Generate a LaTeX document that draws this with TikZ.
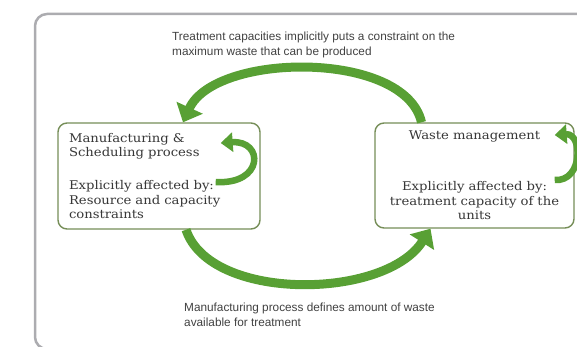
\documentclass[tikz,border=0pt]{standalone}
\usepackage{fontspec}
\setmainfont[FakeStretch=1.1]{DejaVu Serif}
\newfontfamily\notefont{Liberation Sans}
\usetikzlibrary{arrows.meta}

\definecolor{framegray}{RGB}{172,172,176}
\definecolor{boxline}{RGB}{118,142,88}
\definecolor{flowgreen}{RGB}{88,160,52}
\definecolor{boxtext}{RGB}{55,55,55}
\definecolor{notetext}{RGB}{65,65,65}

\tikzset{
  procbox/.style={draw=boxline, line width=1.4pt, rounded corners=9pt, fill=white,
    inner sep=0pt, text=boxtext, font=\fontsize{12}{14.5}\selectfont},
  note/.style={font=\notefont\fontsize{11.8}{14.5}\selectfont, text=notetext,
    align=left, inner sep=0pt, anchor=north west},
  bigflow/.style={draw=flowgreen, line width=9pt, -{Triangle[width=28pt,length=16pt]}},
  loopflow/.style={draw=flowgreen, line width=6.5pt, -{Triangle[width=19pt,length=12pt]}},
}

\begin{document}
\begin{tikzpicture}[x=1pt, y=-1pt]

  \useasboundingbox (0,0) rectangle (577,347);
  \clip (0,0) rectangle (577,347);

  % ***************** FRAME *****************
  \draw[framegray, line width=2.5pt, rounded corners=12pt] (35,14) rectangle (650,349);

  % ***************** BOXES *****************
  \node[procbox, minimum width=202pt, minimum height=106pt, text width=180pt, align=left]
    (mfg) at (159,176)
    {Manufacturing \&\\ Scheduling process\\[18.5pt]
     Explicitly affected by:\\ Resource and capacity\\ constraints};

  \node[procbox, minimum width=199pt, minimum height=105pt, text width=195pt, align=center]
    (waste) at (474.5,175.5)
    {Waste management\\[36.5pt]
     Explicitly affected by:\\ treatment capacity of the\\ units};

  % ***************** NOTES *****************
  \node[note] (capnote) at (172,32)
    {Treatment capacities implicitly puts a constraint on the\\ maximum waste that can be produced};
  \node[note] (mfgnote) at (184,303)
    {Manufacturing process defines amount of waste\\ available for treatment};

  % ***************** FLOWS *****************
  \draw[bigflow] ([xshift=-53pt]waste.north) .. controls (405,50) and (215,52) .. ([xshift=24pt]mfg.north);
  \draw[bigflow] ([xshift=27pt]mfg.south) .. controls (210,302) and (385,300) .. ([xshift=-44pt]waste.south);

  % self loops
  \coordinate (mfgtail) at ([xshift=-45pt,yshift=-6pt]mfg.east);
  \coordinate (mfghead) at ([xshift=-40pt,yshift=33pt]mfg.east);
  \draw[loopflow] (mfgtail) .. controls (264,185) and (264,140) .. (mfghead);

  \coordinate (wastetail) at ([xshift=-20pt,yshift=-4.5pt]waste.east);
  \coordinate (wastehead) at ([xshift=-20pt,yshift=40.5pt]waste.east);
  \draw[loopflow] (wastetail) .. controls (583,182) and (583,133) .. (wastehead);

\end{tikzpicture}
\end{document}
